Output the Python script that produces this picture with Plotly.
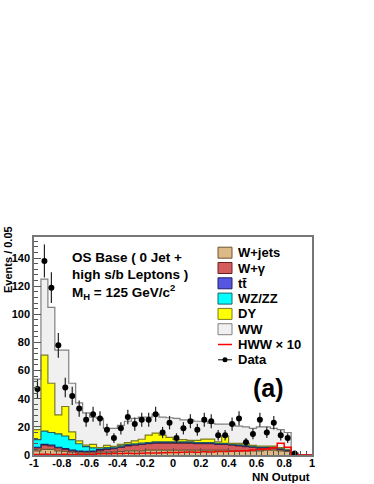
import numpy as np
import plotly.graph_objects as go

# NN output histogram, 40 bins of 0.05 between -1 and 1
edges = np.linspace(-1.0, 1.0, 41)

wjets = [3.0, 4.0, 4.0, 3.0, 2.5, 2.0, 1.5, 1.5, 1.5, 2.0, 2.0, 2.0, 2.5, 3.0, 3.0, 3.0, 3.5, 3.5, 3.5, 3.5,
         3.5, 3.5, 3.5, 3.5, 3.5, 3.5, 3.5, 3.5, 3.0, 3.0, 3.0, 3.0, 3.0, 3.5, 3.5, 3.0, 2.5, 0.5, 0, 0]
wgamma = [2.0, 3.0, 2.5, 2.0, 1.5, 1.0, 1.0, 0.8, 1.0, 1.5, 2.0, 2.5, 3.0, 3.5, 4.0, 4.5, 4.5, 5.0, 5.0, 5.0,
          5.0, 5.0, 5.0, 4.5, 4.5, 4.5, 4.0, 4.0, 4.0, 3.5, 3.0, 2.5, 2.0, 1.5, 1.5, 1.0, 0.8, 0.2, 0, 0]
ttbar = [0.5, 0.6, 0.6, 0.5, 0.5, 0.4, 0.3, 0.3, 0.3, 0.3, 0.3, 0.3, 0.3, 0.3, 0.3, 0.3, 0.3, 0.3, 0.3, 0.3,
         0.3, 0.3, 0.3, 0.3, 0.3, 0.3, 0.3, 0.3, 0.3, 0.3, 0.3, 0.3, 0.3, 0.3, 0.3, 0.3, 0.2, 0.1, 0, 0]
wzzz = [5.5, 9.4, 8.9, 9.5, 9.0, 7.6, 5.2, 3.4, 2.2, 1.2, 1.0, 0.8, 0.7, 0.7, 0.6, 0.6, 0.5, 0.5, 0.5, 0.5,
        0.5, 0.5, 0.5, 0.5, 0.5, 0.5, 0.5, 0.5, 0.5, 0.5, 0.5, 0.5, 0.5, 0.5, 0.5, 0.5, 0.3, 0.1, 0, 0]
dy = [7.0, 54.0, 35.0, 13.5, 21.0, 5.5, 2.0, 1.0, 2.6, 0.3, 1.5, 0.6, 1.1, 1.3, 2.1, 2.8, 5.4, 6.3, 4.9, 3.2,
      1.7, 1.7, 1.1, 1.6, 2.5, 2.5, 1.0, 5.2, 0.5, 1.0, 1.5, 0.5, 0.5, 0.5, 0.5, 0.5, 0.3, 0.1, 0, 0]
ww = [36, 54, 54, 46, 40, 34.5, 27, 23, 19.4, 20.7, 12.2, 12.8, 13.4, 15.2, 16, 15.8, 12.8, 13.4, 12.8, 14,
      15, 14, 14.6, 13.6, 12.7, 11.2, 12.7, 8.5, 13.7, 12.2, 11.7, 12.2, 13.7, 13.7, 12.7, 12.7, 11.9, 0.5, 0, 0]
hww_x10 = [0.3, 0.5, 0.4, 0.4, 0.5, 0.4, 0.5, 0.6, 0.6, 0.8, 0.8, 1.0, 1.0, 1.2, 1.1, 1.3, 1.5, 1.4, 1.6, 1.8,
           1.7, 2.0, 2.1, 2.0, 2.3, 2.2, 2.5, 2.4, 2.7, 2.9, 3.0, 3.6, 4.0, 4.3, 5.1, 8.3, 5.5, 0, 0, 0]
data = [47, 138, 119, 78, 48, 42, 33, 25, 29, 26, 18, 12, 19, 27, 22, 25, 25, 29, 16, 23,
        12, 19, 24, 18, 25, 24, 14, 14, 22, 26, 9, 15, 25, 16, 23, 14, 12, 1, None, None]

names = ['W+jets', 'W+γ', 'tt\u0304', 'WZ/ZZ', 'DY', 'WW', 'HWW × 10', 'Data']
fills = ['#ddb985', '#d45c5c', '#5656e0', '#00ffff', '#ffff00', '#f0f0f0']
lines = ['#6e5530', '#6a2020', '#20206a', '#206060', '#7a7a20', '#808080']

FONT = 'Liberation Sans'

fig = go.Figure()

step_x = np.append(edges[:-1], edges[-1])
for vals, name, fc, lc in zip([wjets, wgamma, ttbar, wzzz, dy, ww], names, fills, lines):
    fig.add_trace(go.Scatter(
        x=step_x, y=np.append(vals, vals[-1]),
        name=name, stackgroup='bkg', line_shape='hv',
        mode='lines', fillcolor=fc, line=dict(color=lc, width=1.2),
        showlegend=False, hoverinfo='skip'
    ))

fig.add_trace(go.Scatter(
    x=step_x, y=np.append(hww_x10, hww_x10[-1]), name=names[6],
    mode='lines', line_shape='hv', line=dict(color='#ff0000', width=1.5),
    showlegend=False
))

centers = (edges[:-1] + edges[1:]) / 2
dvals = np.array([np.nan if v is None else v for v in data], dtype=float)
fig.add_trace(go.Scatter(
    x=centers, y=dvals, name=names[7], mode='markers',
    marker=dict(color='black', size=6),
    error_y=dict(type='data', array=np.sqrt(dvals), thickness=1.2, width=0, color='#222'),
    showlegend=False
))


# screen pixel -> paper helpers (plot area 34..312 x, 237..455 y)
def px(x):
    return (x - 34) / 278.0


def py(y):
    return (455 - y) / 218.0


shapes = []
annotations = []
row0, row_step = 252.7, 15.3
for i, name in enumerate(names):
    yc = row0 + i * row_step
    if i < 6:
        shapes.append(dict(type='rect', xref='paper', yref='paper',
                           x0=px(218), x1=px(232), y0=py(yc + 5.5), y1=py(yc - 5.5),
                           fillcolor=fills[i], line=dict(color=lines[i], width=1)))
    elif i == 6:
        shapes.append(dict(type='line', xref='paper', yref='paper',
                           x0=px(218), x1=px(232), y0=py(yc), y1=py(yc),
                           line=dict(color='#ff0000', width=1.5)))
    else:
        shapes.append(dict(type='line', xref='paper', yref='paper',
                           x0=px(218), x1=px(232), y0=py(yc), y1=py(yc),
                           line=dict(color='black', width=1)))
        shapes.append(dict(type='circle', xref='paper', yref='paper',
                           x0=px(222.5), x1=px(227.5), y0=py(yc + 2.5), y1=py(yc - 2.5),
                           fillcolor='black', line=dict(color='black', width=0)))
    annotations.append(dict(text='<b>%s</b>' % name, xref='paper', yref='paper',
                            x=px(236), y=py(yc), xanchor='left', yanchor='middle',
                            showarrow=False, font=dict(family=FONT, size=13, color='black')))

for txt, yc in [('OS Base ( 0 Jet +', 257), ('high s/b Leptons )', 274.5),
                ('M<sub>H</sub> = 125 GeV/c<sup>2</sup>', 292)]:
    annotations.append(dict(text='<b>%s</b>' % txt, xref='paper', yref='paper',
                            x=px(70), y=py(yc), xanchor='left', yanchor='middle',
                            showarrow=False, font=dict(family=FONT, size=13.5, color='black')))

annotations.append(dict(text='<b>(a)</b>', xref='paper', yref='paper', x=px(268), y=py(388),
                        xanchor='center', yanchor='middle', showarrow=False,
                        font=dict(family=FONT, size=25, color='black')))
annotations.append(dict(text='<b>Events / 0.05</b>', xref='paper', yref='paper', x=px(8), y=py(260),
                        xanchor='center', yanchor='middle', textangle=-90, showarrow=False,
                        font=dict(family=FONT, size=11, color='black')))
annotations.append(dict(text='<b>NN Output</b>', xref='paper', yref='paper', x=px(312), y=py(477),
                        xanchor='right', yanchor='middle', showarrow=False,
                        font=dict(family=FONT, size=11.5, color='black')))

xtick_vals = [-1, -0.8, -0.6, -0.4, -0.2, 0, 0.2, 0.4, 0.6, 0.8, 1]
xtick_text = ['-1', '-0.8', '-0.6', '-0.4', '-0.2', '0', '0.2', '0.4', '0.6', '0.8', '1']

tickfont = dict(family=FONT, size=11, color='black', weight='bold')
fig.update_layout(
    width=374, height=484,
    margin=dict(l=34, r=62, t=237, b=29, autoexpand=False),
    paper_bgcolor='white', plot_bgcolor='white',
    showlegend=False,
    shapes=shapes, annotations=annotations,
    xaxis=dict(range=[-1, 1], tickmode='array', tickvals=xtick_vals, ticktext=xtick_text,
               ticks='inside', ticklen=7, tickcolor='#555', tickfont=tickfont, automargin=False,
               ticklabelstandoff=-3,
               minor=dict(dtick=0.04, ticks='inside', ticklen=4, tickcolor='#555'),
               showline=True, mirror=True, linecolor='#777', linewidth=1.5,
               showgrid=False, zeroline=False),
    yaxis=dict(range=[0, 155], tickmode='linear', tick0=0, dtick=20,
               ticks='inside', ticklen=7, tickcolor='#555', tickfont=tickfont, automargin=False,
               minor=dict(dtick=4, ticks='inside', ticklen=4, tickcolor='#555'),
               showline=True, mirror=True, linecolor='#777', linewidth=1.5,
               showgrid=False, zeroline=False),
)

# drop the browser's default page margin so the figure starts at the window corner
fig.write_html("out.html", config={'displayModeBar': False},
               post_script="document.body.style.margin='0';")
